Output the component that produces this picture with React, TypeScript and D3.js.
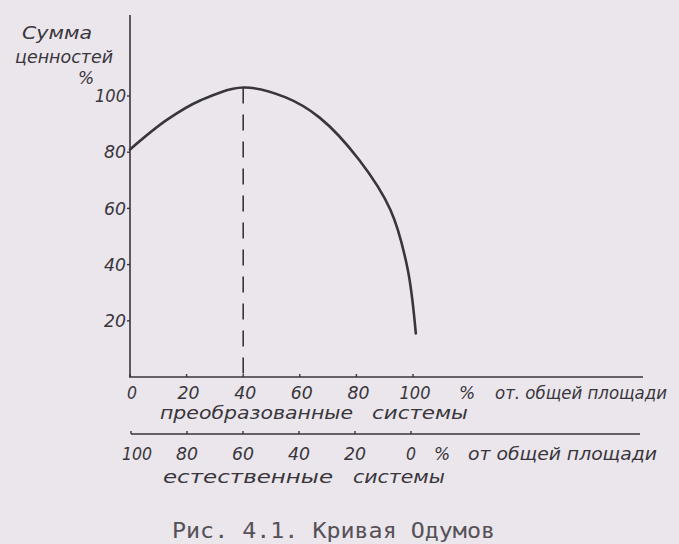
import React from "react";
import * as d3 from "d3";

const curveX = [0, 13, 25, 40, 55, 67, 81, 92, 98, 101];
const curveY = [81, 91.5, 98.5, 103, 99.5, 92.3, 77.2, 59.5, 39, 15.5];
const yTicks = [20, 40, 60, 80, 100];
const xTicks = [0, 20, 40, 60, 80, 100];
const x2Ticks = [100, 80, 60, 40, 20, 0];
const peakX = 40;
const yTitle = ["Сумма", "ценностей", "%"];
const xUnit = "%";
const xUnitText = "от. общей площади";
const x2UnitText = "от общей площади";
const xTitle = ["преобразованные", "системы"];
const x2Title = ["естественные", "системы"];
const caption = "Рис. 4.1. Кривая Одумов";

const W = 679;
const H = 544;
const INK = "#38363b";
const HAND = "'DejaVu Sans', sans-serif";

export default function App() {
  const x = d3.scaleLinear().domain([0, 100]).range([130, 413]);
  const y = d3.scaleLinear().domain([0, 100]).range([377, 96]);
  const x2 = d3.scaleLinear().domain([100, 0]).range([131, 411]);
  const pts: [number, number][] = curveX.map((v, i) => [v, curveY[i]]);
  const line = d3
    .line<[number, number]>()
    .x((d) => x(d[0]))
    .y((d) => y(d[1]))
    .curve(d3.curveCatmullRom.alpha(0.5));
  const peakVal = curveY[curveX.indexOf(peakX)];
  const hand = {
    fontFamily: HAND,
    fontStyle: "italic" as const,
    fill: INK,
  };
  return (
    <svg
      width={W}
      height={H}
      style={{ position: "absolute", left: 0, top: 0, display: "block" }}
    >
      <rect width={W} height={H} fill="#ebe5ec" />
      {/* y axis */}
      <line x1={x(0)} x2={x(0)} y1={15} y2={y(0)} stroke={INK} strokeWidth={1.6} />
      {yTicks.map((t) => (
        <g key={t}>
          <line x1={x(0) - 3} x2={x(0)} y1={y(t)} y2={y(t)} stroke={INK} strokeWidth={1.4} />
          <text
            x={x(0) - 4}
            y={y(t)}
            dy="0.36em"
            textAnchor="end"
            fontSize={17}
            {...hand}
            textLength={t === 100 ? 31 : 22}
            lengthAdjust="spacingAndGlyphs"
          >
            {t}
          </text>
        </g>
      ))}
      <text x={22} y={39} fontSize={18} {...hand} textLength={70} lengthAdjust="spacingAndGlyphs">
        {yTitle[0]}
      </text>
      <text x={15} y={63} fontSize={18} {...hand} textLength={98} lengthAdjust="spacingAndGlyphs">
        {yTitle[1]}
      </text>
      <text x={78} y={84} fontSize={17} {...hand}>
        {yTitle[2]}
      </text>
      {/* first x axis */}
      <line x1={x(0) - 1} x2={643} y1={y(0)} y2={y(0)} stroke={INK} strokeWidth={1.6} />
      {xTicks.map((t) => (
        <g key={t}>
          <line x1={x(t)} x2={x(t)} y1={y(0) - 3} y2={y(0)} stroke={INK} strokeWidth={1.4} />
          <text
            x={x(t) + 2}
            y={393}
            dy="0.36em"
            textAnchor="middle"
            fontSize={17}
            {...hand}
            textLength={t === 0 ? 10 : t === 100 ? 31 : 22}
            lengthAdjust="spacingAndGlyphs"
          >
            {t}
          </text>
        </g>
      ))}
      <text x={467} y={393} dy="0.36em" textAnchor="middle" fontSize={17} {...hand}>
        {xUnit}
      </text>
      <text x={495} y={393} dy="0.36em" fontSize={17} {...hand} textLength={172} lengthAdjust="spacingAndGlyphs">
        {xUnitText}
      </text>
      <text x={160} y={413} dy="0.36em" fontSize={18} {...hand} textLength={193} lengthAdjust="spacingAndGlyphs">
        {xTitle[0]}
      </text>
      <text x={372} y={413} dy="0.36em" fontSize={18} {...hand} textLength={96} lengthAdjust="spacingAndGlyphs">
        {xTitle[1]}
      </text>
      {/* second x axis */}
      <line x1={131} x2={640} y1={434} y2={434} stroke={INK} strokeWidth={1.6} />
      {x2Ticks.map((t) => (
        <g key={t}>
          <line x1={x2(t)} x2={x2(t)} y1={431} y2={434} stroke={INK} strokeWidth={1.4} />
          <text
            x={x2(t) + (t === 100 ? 6 : 0)}
            y={454}
            dy="0.36em"
            textAnchor="middle"
            fontSize={17}
            {...hand}
            textLength={t === 0 ? 10 : t === 100 ? 30 : 22}
            lengthAdjust="spacingAndGlyphs"
          >
            {t}
          </text>
        </g>
      ))}
      <text x={442} y={454} dy="0.36em" textAnchor="middle" fontSize={17} {...hand}>
        {xUnit}
      </text>
      <text x={468} y={454} dy="0.36em" fontSize={17} {...hand} textLength={189} lengthAdjust="spacingAndGlyphs">
        {x2UnitText}
      </text>
      <text x={163} y={477} dy="0.36em" fontSize={18} {...hand} textLength={170} lengthAdjust="spacingAndGlyphs">
        {x2Title[0]}
      </text>
      <text x={353} y={477} dy="0.36em" fontSize={18} {...hand} textLength={92} lengthAdjust="spacingAndGlyphs">
        {x2Title[1]}
      </text>
      {/* dashed peak line */}
      <line
        x1={x(peakX)}
        x2={x(peakX)}
        y1={y(peakVal)}
        y2={y(0)}
        stroke={INK}
        strokeWidth={1.6}
        strokeDasharray="16 11"
      />
      {/* curve */}
      <path d={line(pts) || ""} fill="none" stroke={INK} strokeWidth={2.6} strokeLinecap="round" />
      {/* caption */}
      <text
        x={172}
        y={530}
        dy="0.36em"
        fontSize={22}
        fontFamily="'DejaVu Sans Mono', monospace"
        fill="#545257"
        textLength={323}
        lengthAdjust="spacingAndGlyphs"
      >
        {caption}
      </text>
    </svg>
  );
}
